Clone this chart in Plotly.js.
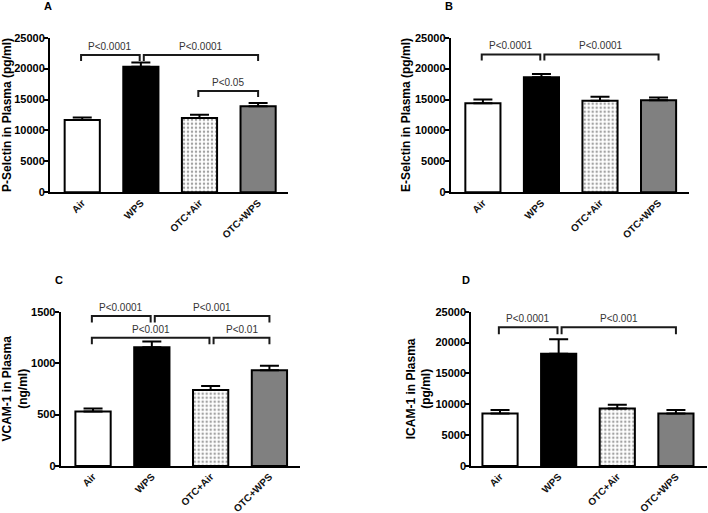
<!DOCTYPE html>
<html>
<head>
<meta charset="utf-8">
<script src="https://cdn.plot.ly/plotly-3.0.1.min.js"></script>
<style>html,body{margin:0;padding:0;background:#fff;}#chart{width:708px;height:513px;}</style>
</head>
<body>
<div id="chart"></div>
<script>
// ---- data ----
const categories = ['Air', 'WPS', 'OTC+Air', 'OTC+WPS'];
const pSelectinMean = [11700, 20300, 12000, 13900];
const pSelectinErr = [400, 700, 550, 550];
const eSelectinMean = [14400, 18600, 14800, 14900];
const eSelectinErr = [600, 550, 650, 450];
const vcamMean = [530, 1155, 740, 930];
const vcamErr = [30, 55, 37, 45];
const icamMean = [8500, 18200, 9300, 8500];
const icamErr = [570, 2350, 630, 570];
// comparisons: [from group, to group, bracket height, label]
const compA = [[0, 1, 22200, 'P<0.0001'], [1, 3, 22200, 'P<0.0001'], [2, 3, 16400, 'P<0.05']];
const compB = [[0, 1, 22300, 'P<0.0001'], [1, 3, 22300, 'P<0.0001']];
const compC = [[0, 1, 1458, 'P<0.0001'], [1, 3, 1458, 'P<0.001'], [0, 2, 1247, 'P<0.001'], [2, 3, 1247, 'P<0.01']];
const compD = [[0, 1, 22500, 'P<0.0001'], [1, 3, 22500, 'P<0.001']];

// ---- style ----
const FONT = 'Arial, "Liberation Sans", sans-serif';
const fills = ['#ffffff', '#000000', '#ffffff', '#808080'];
const patterns = ['', '', '.', ''];
const xIdx = categories.map((_, i) => i);

const panels = [
  {mean: pSelectinMean, err: pSelectinErr, comp: compA, title: 'P-Selctin in Plasma (pg/ml)', letter: 'A',
   xd: [50 / 708, 288 / 708], yd: [1 - 192.3 / 513, 1 - 37.7 / 513], xr: [-0.55, 3.51], yr: [0, 25000], dt: 5000,
   letterPos: [47.7, 6], tickSize: 11, drop: 6},
  {mean: eSelectinMean, err: eSelectinErr, comp: compB, title: 'E-Selctin in Plasma (pg/ml)', letter: 'B',
   xd: [450.7 / 708, 689 / 708], yd: [1 - 192.3 / 513, 1 - 37.7 / 513], xr: [-0.55, 3.52], yr: [0, 25000], dt: 5000,
   letterPos: [449, 6], tickSize: 11, drop: 6},
  {mean: vcamMean, err: vcamErr, comp: compC, title: 'VCAM-1 in Plasma<br>(ng/ml)', letter: 'C',
   xd: [60.7 / 708, 300 / 708], yd: [1 - 466 / 513, 1 - 311.7 / 513], xr: [-0.55, 3.52], yr: [0, 1500], dt: 500,
   letterPos: [59.3, 280], tickSize: 11, drop: 6.5},
  {mean: icamMean, err: icamErr, comp: compD, title: 'ICAM-1 in Plasma<br>(pg/ml)', letter: 'D',
   xd: [471.3 / 708, 707 / 708], yd: [1 - 466 / 513, 1 - 311.7 / 513], xr: [-0.49, 3.53], yr: [0, 25000], dt: 5000,
   letterPos: [466.3, 280], tickSize: 11, drop: 7}
];

const data = [];
const layout = {
  width: 708, height: 513,
  margin: {l: 0, r: 0, t: 0, b: 0},
  paper_bgcolor: '#fff', plot_bgcolor: '#fff',
  showlegend: false,
  font: {family: FONT, color: '#000'},
  shapes: [], annotations: []
};

panels.forEach((p, k) => {
  const n = k === 0 ? '' : String(k + 1);
  const xa = 'x' + n, ya = 'y' + n;
  data.push({
    type: 'bar', x: xIdx, y: p.mean, xaxis: xa, yaxis: ya, width: 0.6,
    marker: {color: fills, line: {color: '#000', width: 2},
             pattern: {shape: patterns, fgcolor: '#6e6e6e', size: 4, solidity: 0.3, fillmode: 'overlay'}},
    error_y: {type: 'data', symmetric: false, array: p.err, arrayminus: p.err.map(() => 0),
              color: '#000', thickness: 2, width: 9.5},
    hoverinfo: 'none'
  });
  layout['xaxis' + n] = {
    domain: p.xd, range: p.xr, anchor: ya, fixedrange: true,
    showline: true, linecolor: '#000', linewidth: 2, showgrid: false, zeroline: false,
    ticks: '', tickvals: xIdx, ticktext: categories, tickangle: -45,
    tickfont: {family: FONT, size: 10, color: '#111', weight: 'bold'},
    ticklabelstandoff: -1
  };
  layout['yaxis' + n] = {
    domain: p.yd, range: p.yr, anchor: xa, fixedrange: true,
    showline: true, linecolor: '#000', linewidth: 2, showgrid: false, zeroline: false,
    ticks: 'outside', ticklen: 4, tickwidth: 2, tickcolor: '#000', dtick: p.dt, tick0: 0, tickformat: 'd',
    tickfont: {family: FONT, size: p.tickSize, color: '#000', weight: 'bold'},
    ticklabelstandoff: -3,
    title: {text: p.title, font: {family: FONT, size: 12, color: '#000', weight: 'bold'}, standoff: 2}
  };
  // significance brackets
  p.comp.forEach(([i, j, level, label]) => {
    const sharedStart = p.comp.some(c => c[1] === i && c[2] === level);
    const sharedEnd = p.comp.some(c => c[0] === j && c[2] === level);
    const x0 = i + (sharedStart ? 0.05 : -0.02);
    const x1 = j - (sharedEnd ? 0.02 : 0);
    layout.shapes.push({
      type: 'path', xref: xa, yref: ya, ysizemode: 'pixel', yanchor: level,
      path: `M ${x0},${-p.drop} L ${x0},0 L ${x1},0 L ${x1},${-p.drop}`,
      line: {color: '#1a1a1a', width: 2}
    });
    layout.annotations.push({
      xref: xa, yref: ya, x: (x0 + x1) / 2, y: level, yanchor: 'bottom', yshift: 1,
      text: label, showarrow: false, font: {family: FONT, size: 10, color: '#333'}
    });
  });
  layout.annotations.push({
    xref: 'paper', yref: 'paper', x: p.letterPos[0] / 708, y: 1 - p.letterPos[1] / 513,
    xanchor: 'center', yanchor: 'middle', text: '<b>' + p.letter + '</b>', showarrow: false,
    font: {family: FONT, size: 11, color: '#000'}
  });
});

Plotly.newPlot('chart', data, layout, {staticPlot: true, displayModeBar: false});
</script>
</body>
</html>
